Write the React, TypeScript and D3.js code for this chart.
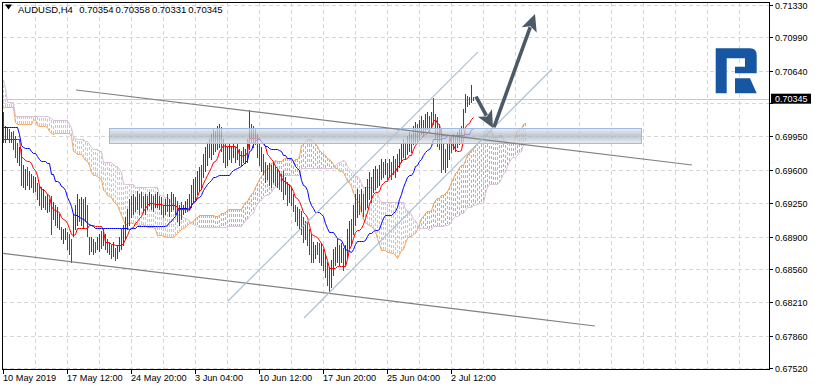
import React, { useEffect, useRef } from 'react';
import * as d3 from 'd3';

// AUDUSD H4, prices in pips (x 0.0001)
// 77 bars before the first visible bar, only feed the Ichimoku windows
const preHigh = [
  7106, 7090, 7058, 7050, 7046, 7040, 7035, 7030, 7028, 7032,
  7038, 7042, 7040, 7036, 7030, 7026, 7022, 7025, 7030, 7036,
  7040, 7044, 7048, 7052, 7055, 7058, 7056, 7054, 7050, 7052,
  7055, 7058, 7060, 7050, 7044, 7044, 7040, 7036, 7032, 7028,
  7024, 7022, 7025, 7028, 7030, 7026, 7022, 7020, 7024, 7028,
  7032, 7035, 7038, 7036, 7032, 7028, 7024, 7006, 7020, 7045,
  7030, 7022, 7018, 7015, 7020, 7027, 7018, 7012, 7008, 7010,
  7015, 7012, 7006, 7000, 6996, 6992, 7004,
];
const preLow = [
  7070, 7060, 7035, 7028, 7020, 7015, 7010, 7008, 7005, 7010,
  7018, 7022, 7020, 7016, 7010, 7004, 7002, 7006, 7012, 7018,
  7024, 7028, 7030, 7034, 7036, 7040, 7038, 7035, 7030, 7032,
  7036, 7040, 7040, 7034, 7028, 7022, 7018, 7014, 7010, 7006,
  7003, 7002, 7004, 7008, 7010, 7006, 7003, 7002, 7005, 7008,
  7012, 7015, 7018, 7016, 7012, 7008, 7004, 6972, 6985, 7010,
  7008, 7000, 6995, 6992, 6998, 7005, 6995, 6990, 6981, 6988,
  6995, 6990, 6982, 6975, 6970, 6968, 6965,
];

// visible bars, oldest first
const barHigh = [
  7020, 7005, 7004, 7002, 6999, 7000, 6995, 6988, 6983, 6981,
  6965, 6960, 6962, 6958, 6955, 6953, 6952, 6946, 6944, 6941,
  6939, 6932, 6934, 6929, 6932, 6926, 6923, 6921, 6913, 6900,
  6897, 6899, 6894, 6892, 6887, 6913, 6923, 6934, 6929, 6931,
  6929, 6931, 6923, 6889, 6889, 6887, 6884, 6889, 6892, 6895,
  6897, 6892, 6887, 6883, 6881, 6884, 6878, 6881, 6889, 6897,
  6902, 6910, 6918, 6929, 6932, 6934, 6931, 6937, 6934, 6936,
  6932, 6934, 6932, 6936, 6934, 6932, 6934, 6936, 6932, 6931,
  6923, 6929, 6934, 6929, 6936, 6934, 6931, 6927, 6923, 6926,
  6923, 6927, 6929, 6934, 6944, 6950, 6952, 6958, 6962, 6965,
  6976, 6983, 6989, 6992, 6997, 7002, 7000, 7005, 7007, 7004,
  6992, 6986, 6983, 6986, 6984, 6986, 6983, 6986, 6981, 6979,
  6983, 6981, 6992, 7022, 7007, 7005, 7002, 6997, 6986, 6983,
  6976, 6968, 6965, 6967, 6965, 6968, 6962, 6960, 6958, 6955,
  6958, 6952, 6947, 6944, 6941, 6934, 6923, 6921, 6918, 6916,
  6910, 6906, 6906, 6897, 6892, 6884, 6881, 6884, 6883, 6883,
  6876, 6871, 6863, 6858, 6865, 6876, 6879, 6887, 6881, 6883,
  6878, 6881, 6897, 6906, 6908, 6923, 6934, 6939, 6934, 6939,
  6934, 6941, 6950, 6957, 6952, 6960, 6963, 6960, 6965, 6971,
  6968, 6971, 6967, 6971, 6968, 6974, 6971, 6976, 6981, 6988,
  6992, 6989, 6995, 6999, 6997, 7005, 7010, 7007, 7012, 7016,
  7012, 7018, 7020, 7016, 7020, 7035, 7018, 7015, 7007, 7002,
  6986, 6981, 6986, 6992, 6995, 6997, 6994, 6999, 7002, 7005,
  7023, 7039, 7037, 7036, 7048, 7036,
];
const barLow = [
  6989, 6989, 6992, 6989, 6989, 6981, 6973, 6968, 6965, 6944,
  6941, 6939, 6944, 6939, 6941, 6936, 6937, 6929, 6923, 6918,
  6920, 6918, 6915, 6916, 6892, 6908, 6902, 6900, 6897, 6887,
  6883, 6887, 6876, 6871, 6863, 6890, 6897, 6902, 6906, 6902,
  6899, 6906, 6890, 6871, 6874, 6871, 6873, 6876, 6874, 6878,
  6881, 6876, 6873, 6871, 6867, 6869, 6865, 6867, 6874, 6876,
  6881, 6887, 6897, 6902, 6910, 6913, 6916, 6918, 6913, 6920,
  6915, 6913, 6918, 6923, 6918, 6916, 6920, 6921, 6918, 6913,
  6910, 6913, 6916, 6911, 6916, 6918, 6913, 6906, 6902, 6908,
  6913, 6915, 6916, 6918, 6921, 6926, 6929, 6934, 6937, 6939,
  6952, 6958, 6965, 6973, 6971, 6976, 6979, 6981, 6983, 6979,
  6968, 6962, 6965, 6971, 6968, 6973, 6968, 6971, 6965, 6965,
  6968, 6967, 6968, 6981, 6988, 6983, 6986, 6973, 6965, 6958,
  6955, 6947, 6950, 6944, 6941, 6947, 6944, 6941, 6939, 6937,
  6929, 6934, 6923, 6926, 6923, 6916, 6906, 6902, 6897, 6892,
  6884, 6887, 6881, 6871, 6863, 6863, 6867, 6871, 6863, 6860,
  6855, 6847, 6839, 6831, 6837, 6849, 6860, 6863, 6860, 6863,
  6855, 6860, 6867, 6878, 6881, 6892, 6902, 6910, 6913, 6916,
  6911, 6918, 6921, 6929, 6926, 6936, 6939, 6941, 6944, 6950,
  6952, 6955, 6950, 6952, 6950, 6955, 6952, 6958, 6962, 6968,
  6973, 6971, 6976, 6979, 6978, 6986, 6989, 6988, 6992, 6997,
  6995, 6999, 7002, 6999, 7004, 7007, 6992, 6984, 6981, 6957,
  6960, 6957, 6962, 6971, 6978, 6981, 6979, 6983, 6986, 6989,
  7002, 7020, 7026, 7028, 7030, 7033,
];
// u = up bar, d = down bar
const barDir = [
  'duududddud', 'uuduududdd', 'ududdududd', 'uuddduuudu', 'dudduuduud',
  'uddududuuu', 'uuuudududu', 'dududduudd', 'duduudddud', 'uuduuuuuud',
  'uuuduuduud', 'dduudududd', 'uuuudddddu', 'dduddududd', 'dududddudd',
  'duddduuddu', 'dddduuuudu', 'duuuduuudu', 'duuuduuduu', 'dudududuuu',
  'uduuduuduu', 'duududdddd', 'uduududuud', 'uuddud',
].join('');

const timeLabels = ['10 May 2019', '17 May 12:00', '24 May 20:00', '3 Jun 04:00', '10 Jun 12:00', '17 Jun 20:00', '25 Jun 04:00', '2 Jul 12:00'];
const labelStep = 32; // bars between time labels
const priceTicks = [0.6752, 0.6786, 0.6821, 0.6856, 0.689, 0.6925, 0.696, 0.6995, 0.70295, 0.7064, 0.7099, 0.7133];
const lastBar = [0.70354, 0.70358, 0.70331, 0.70345];

// drawings, as [bar, price]
const zone = [[53, 0.70038], [319, 0.69881]];
const greyLines = [
  [[36.5, 0.70436], [344.5, 0.6965]],
  [[-1.5, 0.68728], [296, 0.67963]],
];
const blueLines = [
  [[112.5, 0.68225], [237.5, 0.70835]],
  [[150.5, 0.68047], [274.5, 0.70656]],
];
const arrows = [
  [[236.5, 0.70368], [245, 0.70038]],
  [[245.5, 0.70048], [266, 0.71233]],
];

const FONT = "'Liberation Sans', Arial, sans-serif";

const App = () => {
  const svgRef = useRef<SVGSVGElement>(null);

  useEffect(() => {
    document.body.style.margin = '0';
    const svg = d3.select(svgRef.current);
    svg.selectAll('*').remove();

    const pre = preHigh.length;
    const highs = preHigh.concat(barHigh).map(v => v / 1e4);
    const lows = preLow.concat(barLow).map(v => v / 1e4);
    const n = barHigh.length;

    // one H4 bar every 2px
    const x = d3.scaleLinear().domain([0, 1]).range([3, 5]);
    const y = d3.scaleLinear().domain([0.6752, 0.7133]).range([368.3, 4.7]);
    const px = (i: number) => Math.round(x(i)) + 0.5;

    const mid = (k: number, p: number) => {
      const s = k - p + 1;
      return ((d3.max(highs.slice(s, k + 1)) as number) + (d3.min(lows.slice(s, k + 1)) as number)) / 2;
    };
    const tenkan = d3.range(n).map(i => ({ i, v: mid(i + pre, 9) }));
    const kijun = d3.range(n).map(i => ({ i, v: mid(i + pre, 26) }));
    const cloud = d3.range(n + 26).map(i => {
      const k = i + pre - 26;
      return { i, a: (mid(k, 9) + mid(k, 26)) / 2, b: mid(k, 52) };
    });

    const defs = svg.append('defs');
    defs.append('clipPath').attr('id', 'plot')
      .append('rect').attr('x', 3).attr('y', 3).attr('width', 766).attr('height', 366);
    const grad = defs.append('linearGradient').attr('id', 'zoneFill')
      .attr('x1', 0).attr('x2', 0).attr('y1', 0).attr('y2', 1);
    grad.append('stop').attr('offset', '0%').attr('stop-color', '#e3e9f0');
    grad.append('stop').attr('offset', '50%').attr('stop-color', '#a9b3be');
    grad.append('stop').attr('offset', '100%').attr('stop-color', '#e3e9f0');

    svg.append('rect').attr('width', 815).attr('height', 391).attr('fill', '#fff');
    const plot = svg.append('g').attr('clip-path', 'url(#plot)');

    // grid
    plot.selectAll('.hgrid').data(priceTicks).join('line')
      .attr('x1', 3).attr('x2', 769)
      .attr('y1', d => Math.round(y(d)) + 0.5).attr('y2', d => Math.round(y(d)) + 0.5)
      .attr('stroke', '#d6d6d6').attr('stroke-dasharray', '4,3');
    plot.selectAll('.vgrid').data(d3.range(16, 370, 16)).join('line')
      .attr('x1', d => px(d)).attr('x2', d => px(d))
      .attr('y1', 3).attr('y2', 369)
      .attr('stroke', '#d6d6d6').attr('stroke-dasharray', '4,3');

    // bid line
    plot.append('line')
      .attr('x1', 3).attr('x2', 769)
      .attr('y1', Math.round(y(lastBar[3])) + 0.5).attr('y2', Math.round(y(lastBar[3])) + 0.5)
      .attr('stroke', '#c8c8c8');

    // kumo hatch
    plot.append('g').attr('shape-rendering', 'crispEdges')
      .selectAll('line').data(cloud).join('line')
      .attr('x1', d => px(d.i)).attr('x2', d => px(d.i))
      .attr('y1', d => Math.round(y(d.a))).attr('y2', d => Math.round(y(d.b)))
      .attr('stroke', d => (d.a >= d.b ? '#F4A460' : '#D8BFD8'))
      .attr('stroke-dasharray', '3,2');

    const spanLine = d3.line<{ i: number; v: number }>().x(d => px(d.i)).y(d => Math.round(y(d.v)) + 0.5);
    plot.append('path').attr('d', spanLine(cloud.map(d => ({ i: d.i, v: d.a }))))
      .attr('fill', 'none').attr('stroke', '#F4A460');
    plot.append('path').attr('d', spanLine(cloud.map(d => ({ i: d.i, v: d.b }))))
      .attr('fill', 'none').attr('stroke', '#D8BFD8');

    // bars
    plot.append('g').selectAll('line').data(d3.range(n)).join('line')
      .attr('x1', i => px(i)).attr('x2', i => px(i))
      .attr('y1', i => y(barHigh[i] / 1e4) - 0.5).attr('y2', i => y(barLow[i] / 1e4) + 0.5)
      .attr('stroke', i => (barDir[i] === 'u' ? '#37474F' : '#FF0000'))
      .attr('shape-rendering', 'crispEdges');

    plot.append('path').attr('d', spanLine(tenkan)).attr('fill', 'none').attr('stroke', '#FF0000');
    plot.append('path').attr('d', spanLine(kijun)).attr('fill', 'none').attr('stroke', '#0000FF');

    // support zone
    plot.append('rect')
      .attr('x', x(zone[0][0]) + 0.5).attr('y', y(zone[0][1]) + 0.5)
      .attr('width', x(zone[1][0]) - x(zone[0][0]))
      .attr('height', y(zone[1][1]) - y(zone[0][1]))
      .attr('fill', 'url(#zoneFill)').attr('fill-opacity', 0.75)
      .attr('stroke', '#9fbbe2');

    const seg = (g: d3.Selection<SVGGElement, unknown, null, undefined>, pts: number[][][], color: string, w: number) => {
      g.selectAll(null).data(pts).join('line')
        .attr('x1', d => x(d[0][0])).attr('y1', d => y(d[0][1]))
        .attr('x2', d => x(d[1][0])).attr('y2', d => y(d[1][1]))
        .attr('stroke', color).attr('stroke-width', w);
    };
    seg(plot.append('g'), greyLines, '#808080', 1.2);
    seg(plot.append('g'), blueLines, '#aac2d4', 1.2);

    // arrows
    arrows.forEach(([s, e]) => {
      const x0 = x(s[0]), y0 = y(s[1]), x1 = x(e[0]), y1 = y(e[1]);
      const len = Math.hypot(x1 - x0, y1 - y0);
      const ux = (x1 - x0) / len, uy = (y1 - y0) / len;
      const head = 17, half = 8;
      const bx = x1 - ux * head, by = y1 - uy * head;
      plot.append('line')
        .attr('x1', x0).attr('y1', y0).attr('x2', bx + ux * 3).attr('y2', by + uy * 3)
        .attr('stroke', '#4a5a66').attr('stroke-width', 3.6);
      plot.append('path')
        .attr('d', `M${x1},${y1}L${bx - uy * half},${by + ux * half}L${bx + ux * 4},${by + uy * 4}L${bx + uy * half},${by - ux * half}Z`)
        .attr('fill', '#4a5a66');
    });

    // logo
    const logo = svg.append('g').attr('fill', '#1656a3');
    logo.append('path').attr('d',
      'M715.7,48.3H750Q756.7,48.3 756.7,55V73.3H735V66.7H745V58.3H726.7V93.3H715.7Z');
    logo.append('path').attr('d', 'M735,78.3H750L756.7,93.3H735Z');

    // frame
    svg.append('rect').attr('x', 2.5).attr('y', 2.5).attr('width', 767).attr('height', 367)
      .attr('fill', 'none').attr('stroke', '#000');

    // price axis, the current price box hides the tick label under it
    const fmt = d3.format('.5f');
    const yc = y(lastBar[3]);
    const yAxis = svg.append('g').attr('font-family', FONT).attr('font-size', 9);
    priceTicks.forEach(v => {
      const yy = Math.round(y(v)) + 0.5;
      yAxis.append('line').attr('x1', 769.5).attr('x2', 773).attr('y1', yy).attr('y2', yy).attr('stroke', '#000');
      if (Math.abs(yy - yc) > 9) yAxis.append('text').attr('x', 775).attr('y', yy + 3.3).text(fmt(v));
    });
    yAxis.append('rect').attr('x', 771).attr('y', yc - 5).attr('width', 40).attr('height', 10).attr('fill', '#000');
    yAxis.append('text').attr('x', 775).attr('y', yc + 3.3).attr('fill', '#fff').text(fmt(lastBar[3]));

    // time axis
    const xAxis = svg.append('g').attr('font-family', FONT).attr('font-size', 9.2);
    timeLabels.forEach((t, k) => {
      const xx = px(k * labelStep);
      xAxis.append('line').attr('x1', xx).attr('x2', xx).attr('y1', 369.5).attr('y2', 374).attr('stroke', '#000');
      xAxis.append('text').attr('x', xx - 0.5).attr('y', 381).text(t);
    });

    // header
    svg.append('path').attr('d', 'M5,4.5H12L8.5,9.5Z').attr('fill', '#000');
    const head = svg.append('g').attr('font-family', FONT).attr('font-size', 9.5);
    head.append('text').attr('x', 18).attr('y', 13).text('AUDUSD,H4');
    lastBar.forEach((v, k) => {
      head.append('text').attr('x', 79.3 + k * 36.3).attr('y', 13).text(fmt(v));
    });
  }, []);

  return <svg ref={svgRef} width={815} height={391} style={{ display: 'block' }} />;
};

export default App;
